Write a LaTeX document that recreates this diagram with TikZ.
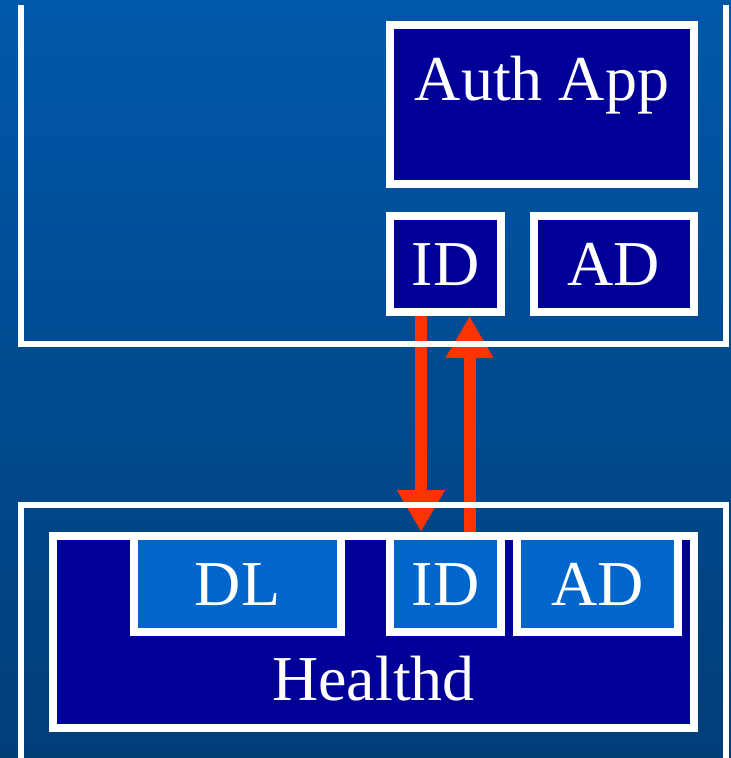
\documentclass[tikz,border=0pt]{standalone}
\usepackage{fontspec}
\setmainfont{Liberation Serif}
\usetikzlibrary{arrows.meta}
\definecolor{bgtop}{RGB}{0,88,170}
\definecolor{bgbot}{RGB}{0,62,120}
\definecolor{darkbox}{HTML}{000099}
\definecolor{lightbox}{HTML}{0066CC}
\definecolor{flow}{HTML}{FF3300}
\tikzset{
  box/.style={draw=white, line width=8pt, inner sep=0pt, font=\fontsize{64}{64}\selectfont,
    text=white, text height=42pt, text depth=0pt},
  appbox/.style={box, fill=darkbox},
  subbox/.style={box, fill=lightbox},
  frame/.style={draw=white, line width=6pt, line join=miter},
  flowarrow/.style={draw=flow, line width=12pt, -{Triangle[width=45pt,length=42pt]}}
}
\begin{document}
\begin{tikzpicture}[x=1pt,y=-1pt]
  \useasboundingbox (0,0) rectangle (731,758);
  \shade[top color=bgtop, bottom color=bgbot] (0,0) rectangle (731,758);

  % upper host
  \node[appbox, minimum width=304pt, minimum height=159pt, text height=45pt, text depth=54pt]
    (auth) at (542,104.5) {Auth App};
  \node[appbox, minimum width=111pt, minimum height=96pt] (idA) at (445.5,264) {ID};
  \node[appbox, minimum width=160pt, minimum height=96pt] (adA) at (614,264) {AD};

  % lower host
  \node[appbox, minimum width=641pt, minimum height=192pt, text height=150pt, text depth=14pt]
    (healthd) at (373.5,632) {Healthd};
  \node[subbox, minimum width=207pt, minimum height=96pt] (dl) at (237.5,584) {DL};
  \node[subbox, minimum width=111pt, minimum height=96pt] (idB) at (445.5,584) {ID};
  \node[subbox, minimum width=161pt, minimum height=96pt] (adB) at (597.5,584) {AD};

  % request and reply between the two ID modules
  \draw[flowarrow] ([xshift=-24.5pt]idA.south) -- ([xshift=-24.5pt]idB.north);
  \draw[flowarrow] ([xshift=24pt]idB.north) -- ([xshift=24pt]idA.south);

  % host frames
  \draw[frame] (21,5) -- (21,344) -- (726,344) -- (726,5);
  \draw[frame] (21,761) -- (21,505) -- (726,505) -- (726,761);
\end{tikzpicture}
\end{document}
